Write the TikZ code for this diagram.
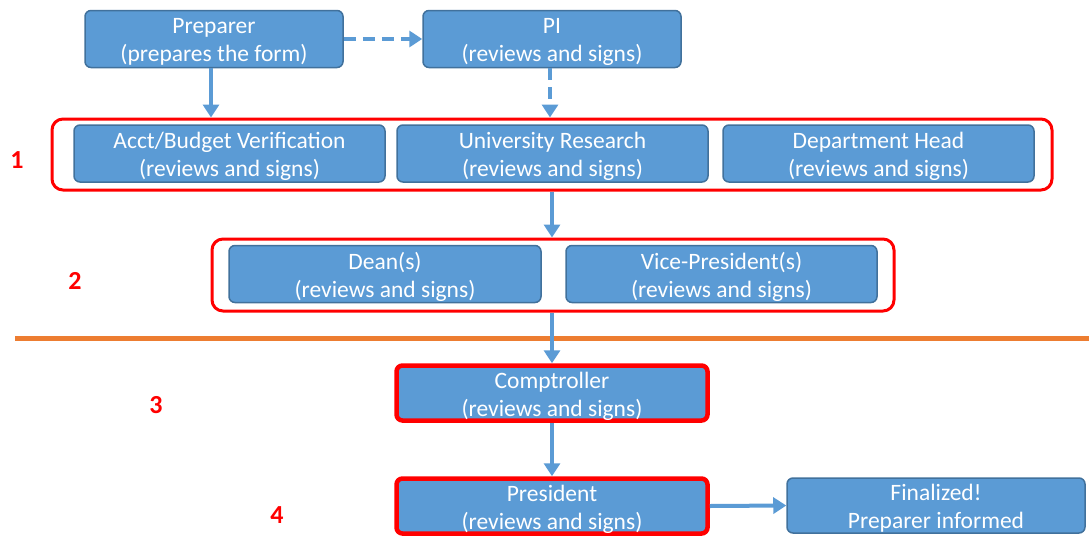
\documentclass[tikz,border=0pt]{standalone}
\usepackage{fontspec}
\setmainfont{Carlito}
\usetikzlibrary{arrows.meta}
\definecolor{boxfill}{HTML}{5B9BD5}
\definecolor{boxedge}{HTML}{41719C}
\definecolor{grpred}{HTML}{FF0000}
\definecolor{orng}{HTML}{ED7D31}
\begin{document}
\begin{tikzpicture}[x=1pt,y=-1pt,
  boxtext/.style={text=white, align=center, inner sep=0pt, yshift=-3pt,
    font=\fontsize{23.5}{28}\selectfont},
  stagebox/.style={draw=boxedge, fill=boxfill, line width=1.5pt, rounded corners=6pt,
    inner sep=0pt, minimum height=57pt},
  keybox/.style={stagebox, draw=grpred, line width=4.5pt},
  grpbox/.style={draw=grpred, line width=3pt, rounded corners=11pt, inner sep=0pt},
  flow/.style={draw=boxfill, line width=4pt, -{Triangle[length=13pt,width=16pt]}},
  dflow/.style={flow, dash pattern=on 12pt off 7pt},
  num/.style={text=grpred, font=\fontsize{26}{28}\selectfont\bfseries}
]
\useasboundingbox (0,0) rectangle (1089,536);
% top row
\node[stagebox, minimum width=258pt, label={[boxtext]center:Preparer\\(prepares the form)}] (prep) at (214,39) {};
\node[stagebox, minimum width=258pt, label={[boxtext]center:PI\\(reviews and signs)}] (pi) at (552,39) {};
% group 1
\node[grpbox, minimum width=1000pt, minimum height=71pt] (g1) at (552,154.5) {};
\node[stagebox, minimum width=311pt, label={[boxtext]center:Acct/Budget Verification\\(reviews and signs)}] (acct) at (229.5,153.5) {};
\node[stagebox, minimum width=311pt, label={[boxtext]center:University Research\\(reviews and signs)}] (ur) at (552.5,153.5) {};
\node[stagebox, minimum width=311pt, label={[boxtext]center:Department Head\\(reviews and signs)}] (dh) at (878.5,153.5) {};
% group 2
\node[grpbox, minimum width=682pt, minimum height=72pt] (g2) at (553,275) {};
\node[stagebox, minimum width=312pt, label={[boxtext]center:Dean(s)\\(reviews and signs)}] (dean) at (385,274) {};
\node[stagebox, minimum width=311pt, label={[boxtext]center:Vice-President(s)\\(reviews and signs)}] (vp) at (721.5,274) {};
% separator
\coordinate (sepL) at (15,338);
\coordinate (sepR) at (1089,338);
\draw[orng, line width=5pt] (sepL) -- (sepR);
% lower stages
\node[keybox, minimum width=311pt, minimum height=55pt, label={[boxtext]center:Comptroller\\(reviews and signs)}] (comp) at (552,393) {};
\node[keybox, minimum width=311pt, minimum height=55pt, label={[boxtext]center:President\\(reviews and signs)}] (pres) at (552,506) {};
\node[stagebox, minimum width=298pt, minimum height=55pt, label={[boxtext]center:Finalized!\\Preparer informed}] (fin) at (936,505.5) {};
% numbers
\node[num] (n1) at (17,160) {1};
\node[num] (n2) at (75,281) {2};
\node[num] (n3) at (156,405) {3};
\node[num] (n4) at (277,515) {4};
% connectors
\draw[dflow] (prep.east) -- (pi.west);
\draw[flow] (prep.south -| 211,0) -- (g1.north -| 211,0);
\draw[dflow] (pi.south -| 550,0) -- (g1.north -| 550,0);
\draw[flow] (g1.south -| 552,0) -- (g2.north -| 552,0);
\draw[flow] (g2.south -| 552,0) -- (comp.north);
\draw[flow] (comp.south) -- (pres.north);
\draw[flow] (pres.east) -- (fin.west);
\end{tikzpicture}
\end{document}
